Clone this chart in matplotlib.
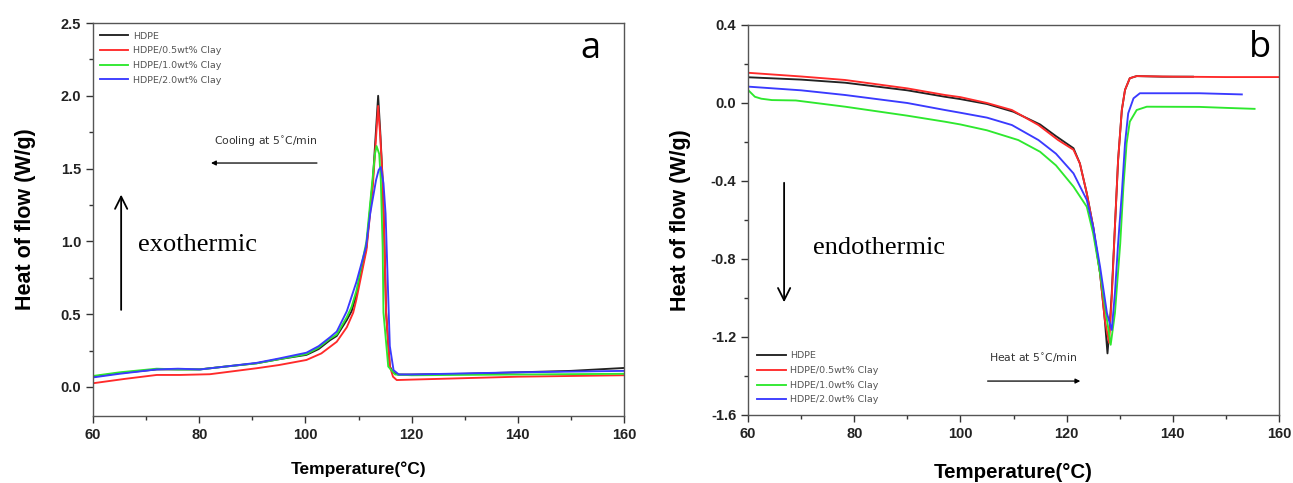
import matplotlib
matplotlib.use("Agg")
import matplotlib.pyplot as plt
from matplotlib.ticker import MultipleLocator

# ---------------- data: panel a (cooling) ----------------
labels = ["HDPE", "HDPE/0.5wt% Clay", "HDPE/1.0wt% Clay", "HDPE/2.0wt% Clay"]
colors = ["#222222", "#ff2a2a", "#2ee82e", "#3a3aff"]

a_hdpe_T = [60, 65, 72, 76, 80, 85, 90.8, 95, 100.2, 102.5, 104.6, 105.9, 107.8, 108.7, 109.6, 111.5, 112.7, 113.1, 113.7,
            114.1, 114.55, 114.9, 115.2, 115.9, 116.5, 117.4, 120, 130, 140, 150, 160]
a_hdpe_v = [0.07, 0.095, 0.12, 0.12, 0.12, 0.14, 0.162, 0.19, 0.22, 0.26, 0.32, 0.35, 0.46, 0.52, 0.63, 0.96, 1.42, 1.65, 2.0,
            1.75, 1.42, 0.96, 0.51, 0.14, 0.10, 0.085, 0.085, 0.09, 0.10, 0.11, 0.13]

a_c05_T = [60, 66, 72, 76.4, 82, 90.8, 95, 100.2, 103, 105.9, 107.8, 109.0, 109.6, 111.5, 112.7, 113.1, 113.7,
           114.1, 114.55, 114.9, 115.2, 115.9, 116.5, 117.2, 120, 130, 140, 150, 160]
a_c05_v = [0.025, 0.055, 0.082, 0.082, 0.087, 0.128, 0.15, 0.185, 0.23, 0.31, 0.41, 0.51, 0.60, 0.94, 1.38, 1.60, 1.93,
           1.72, 1.42, 0.96, 0.51, 0.14, 0.07, 0.047, 0.05, 0.06, 0.07, 0.075, 0.08]

a_c10_T = [60, 65, 72, 76, 80.2, 85, 90.8, 95, 100.2, 102.5, 104.6, 105.9, 107.8, 108.7, 109.6, 111.5, 112.7, 113.1, 113.4,
           113.9, 114.2, 114.55, 114.7, 115.6, 116.9, 120, 140, 160]
a_c10_v = [0.075, 0.10, 0.125, 0.12, 0.12, 0.14, 0.162, 0.19, 0.225, 0.27, 0.33, 0.36, 0.48, 0.55, 0.66, 1.0, 1.45, 1.60, 1.655,
           1.6, 1.42, 0.96, 0.51, 0.14, 0.085, 0.08, 0.085, 0.09]

a_c20_T = [60, 65, 72, 76, 80.2, 85, 90.8, 95, 100.2, 102.5, 104.6, 105.9, 107.8, 109.6, 111.4, 112.2, 113.3, 113.8, 114.2,
           114.7, 115.1, 115.5, 115.9, 116.6, 117.6, 120, 140, 160]
a_c20_v = [0.065, 0.09, 0.12, 0.125, 0.12, 0.14, 0.165, 0.195, 0.235, 0.28, 0.34, 0.38, 0.52, 0.72, 0.96, 1.19, 1.42, 1.49, 1.51,
           1.40, 1.19, 0.73, 0.28, 0.115, 0.085, 0.085, 0.10, 0.11]

# ---------------- data: panel b (heating) ----------------
b_hdpe_T = [60, 70, 78.3, 90, 97.1, 100, 105, 110, 115, 118, 121.3, 122.5, 123.8, 125.0, 126.3, 127.2, 127.7,
            128.1, 128.5, 129.1, 129.7, 130.4, 131.0, 131.9, 133.2, 138, 143.8]
b_hdpe_v = [0.132, 0.12, 0.104, 0.065, 0.032, 0.02, -0.005, -0.045, -0.11, -0.17, -0.232, -0.31, -0.463, -0.634, -0.873, -1.113, -1.284,
            -1.15, -0.976, -0.634, -0.292, -0.036, 0.067, 0.127, 0.138, 0.135, 0.135]

b_c05_T = [60, 70, 78.3, 90, 97.1, 100, 105, 109.7, 114.7, 118.4, 121.3, 122.5, 123.8, 125.0, 126.3, 127.2, 128.0,
           128.5, 129.1, 129.7, 130.4, 131.0, 131.9, 133.2, 140, 150, 160]
b_c05_v = [0.155, 0.136, 0.118, 0.075, 0.041, 0.03, 0.0, -0.036, -0.113, -0.19, -0.24, -0.31, -0.463, -0.634, -0.873, -1.113, -1.23,
           -1.0, -0.634, -0.292, -0.036, 0.067, 0.127, 0.138, 0.135, 0.133, 0.133]

b_c10_T = [60, 61.3, 62.5, 64.5, 69, 78.3, 90, 97.1, 100, 105, 110.9, 115, 118, 121.3, 123.8, 125.0, 126.3, 127.6, 128.3,
           129.1, 130.1, 130.7, 131.3, 131.9, 133.2, 135.1, 145, 150, 155.4]
b_c10_v = [0.067, 0.032, 0.022, 0.015, 0.013, -0.019, -0.065, -0.096, -0.11, -0.14, -0.19, -0.25, -0.32, -0.429, -0.532, -0.668,
           -0.873, -1.113, -1.24, -1.078, -0.72, -0.429, -0.207, -0.096, -0.036, -0.019, -0.02, -0.025, -0.03]

b_c20_T = [60, 70, 78.3, 90, 97.1, 100, 105, 109.7, 114.7, 118, 121.3, 123.8, 125.0, 126.3, 127.6, 128.5,
           129.1, 129.7, 130.4, 131.0, 131.6, 132.6, 133.8, 140, 145, 153]
b_c20_v = [0.084, 0.065, 0.041, 0.0, -0.036, -0.05, -0.075, -0.113, -0.19, -0.26, -0.361, -0.497, -0.634, -0.839, -1.078, -1.164,
           -0.976, -0.72, -0.463, -0.207, -0.053, 0.024, 0.05, 0.05, 0.05, 0.044]

xticks = [60, 80, 100, 120, 140, 160]
a_yticks = [0.0, 0.5, 1.0, 1.5, 2.0, 2.5]
b_yticks = [-1.6, -1.2, -0.8, -0.4, 0.0, 0.4]

# ---------------- figure ----------------
plt.rcParams['font.family'] = ['Liberation Sans', 'DejaVu Sans']
fig = plt.figure(figsize=(12.93, 4.83), dpi=100)
axA = fig.add_axes([93/1293, 1-416/483, (624-93)/1293, (416-23)/483])
axB = fig.add_axes([748/1293, 1-415/483, (1279-748)/1293, (415-25)/483])

def style(ax, yticks, ymin, ymax, yfmt, xlabsize, ylabsize, xpad, ypad):
    ax.set_xlim(60, 160)
    ax.set_ylim(ymin, ymax)
    ax.set_xticks(xticks)
    ax.set_yticks(yticks)
    ax.set_yticklabels([yfmt.format(v) for v in yticks])
    ax.xaxis.set_minor_locator(MultipleLocator(10))
    ax.yaxis.set_minor_locator(MultipleLocator((yticks[1]-yticks[0])/2))
    ax.tick_params(which='both', direction='out', top=False, right=False, labelsize=10.5, colors='#333333',
                   labelcolor='#222222', width=1.0)
    ax.tick_params(which='major', length=5)
    ax.tick_params(which='minor', length=3)
    for lab in ax.get_xticklabels() + ax.get_yticklabels():
        lab.set_fontweight('bold')
    for s in ax.spines.values():
        s.set_color('#555555')
        s.set_linewidth(1.0)
    ax.set_xlabel("Temperature(°C)", fontsize=xlabsize, fontweight='bold', labelpad=xpad)
    ax.set_ylabel("Heat of flow (W/g)", fontsize=ylabsize, fontweight='bold', labelpad=ypad)

legend_font = dict(family=['DejaVu Sans'], size=6.8)

# panel a
for T, v, c, l in zip([a_hdpe_T, a_c05_T, a_c10_T, a_c20_T], [a_hdpe_v, a_c05_v, a_c10_v, a_c20_v], colors, labels):
    axA.plot(T, v, color=c, lw=1.35, label=l)
style(axA, a_yticks, -0.2, 2.5, "{:.1f}", 12.5, 15.5, 14, 18)
legA = axA.legend(loc='upper left', bbox_to_anchor=(0.0, 0.995), frameon=False, prop=legend_font,
                  handlelength=3.0, handletextpad=0.5, labelspacing=0.6, borderaxespad=0.3)
for t in legA.get_texts():
    t.set_color('#555555')
axA.text(0.955, 0.935, "a", transform=axA.transAxes, fontsize=26, ha='right', va='center',
         family=['Open Sans', 'DejaVu Sans'])
axA.annotate("", xy=(65.3, 1.34), xytext=(65.3, 0.51),
             arrowprops=dict(arrowstyle='->', lw=1.3, color='black', mutation_scale=22))
axA.text(68.5, 0.975, "exothermic", fontsize=19, family=['Liberation Serif', 'DejaVu Serif'], va='center')
axA.annotate("", xy=(81.7, 1.538), xytext=(102.7, 1.538),
             arrowprops=dict(arrowstyle='-|>', lw=0.9, color='black', mutation_scale=7))
axA.text(92.6, 1.68, "Cooling at 5$^{\\circ}$C/min", fontsize=7.8, ha='center', va='center', color='#333333',
         family=['DejaVu Sans'])

# panel b
for T, v, c, l in zip([b_hdpe_T, b_c05_T, b_c10_T, b_c20_T], [b_hdpe_v, b_c05_v, b_c10_v, b_c20_v], colors, labels):
    axB.plot(T, v, color=c, lw=1.35, label=l)
style(axB, b_yticks, -1.6, 0.4, "{:.1f}", 14.8, 15.5, 16, 14)
legB = axB.legend(loc='lower left', bbox_to_anchor=(0.005, 0.01), frameon=False, prop=legend_font,
                  handlelength=3.0, handletextpad=0.5, labelspacing=0.6, borderaxespad=0.3)
for t in legB.get_texts():
    t.set_color('#555555')
axB.text(0.985, 0.94, "b", transform=axB.transAxes, fontsize=26, ha='right', va='center',
         family=['Open Sans', 'DejaVu Sans'])
axB.annotate("", xy=(66.8, -1.036), xytext=(66.8, -0.395),
             arrowprops=dict(arrowstyle='->', lw=1.3, color='black', mutation_scale=22))
axB.text(72.2, -0.744, "endothermic", fontsize=19, family=['Liberation Serif', 'DejaVu Serif'], va='center')
axB.annotate("", xy=(123.1, -1.426), xytext=(104.6, -1.426),
             arrowprops=dict(arrowstyle='-|>', lw=0.9, color='black', mutation_scale=7))
axB.text(113.7, -1.308, "Heat at 5$^{\\circ}$C/min", fontsize=7.8, ha='center', va='center', color='#333333',
         family=['DejaVu Sans'])

fig.savefig("out.png", dpi=100)
